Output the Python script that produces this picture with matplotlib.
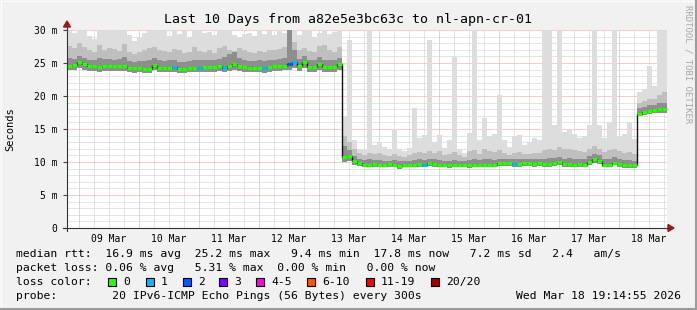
import matplotlib
matplotlib.use("Agg")
import matplotlib.pyplot as plt
import matplotlib.dates as mdates
from matplotlib.patches import Polygon, Rectangle
import numpy as np
import datetime as dt

# ---- data (2 hour bins, 10 days, values in ms) ----
start = dt.datetime(2026, 3, 8, 19, 15)
bin_hours = 2

median_ms = [
    24.6, 24.7, 25.1, 24.9, 24.6, 24.6, 24.4, 24.5, 24.6, 24.5,
    24.6, 24.5, 24.3, 24.2, 24.3, 24.1, 24.1, 24.7, 24.2, 24.2,
    24.3, 24.4, 24.1, 24.1, 24.2, 24.2, 24.3, 24.4, 24.4, 24.4,
    24.5, 24.3, 24.6, 24.8, 24.5, 24.4, 24.2, 24.2, 24.3, 24.2,
    24.4, 24.5, 24.5, 24.6, 24.8, 25.2, 24.6, 25.1, 24.4, 24.4,
    24.9, 24.4, 24.4, 24.4, 24.8, 10.7, 10.9, 10.1, 9.9, 9.6,
    9.6, 9.7, 9.6, 9.6, 9.7, 9.6, 9.4, 9.6, 9.6, 9.6,
    9.7, 9.6, 9.8, 9.7, 9.6, 9.6, 9.5, 9.6, 9.6, 9.6,
    9.5, 9.6, 9.6, 9.6, 9.6, 9.6, 9.8, 9.8, 9.8, 9.7,
    9.7, 9.8, 9.8, 9.7, 9.8, 9.7, 9.7, 9.8, 10.0, 9.7,
    9.7, 9.6, 9.7, 9.6, 10.0, 10.4, 10.2, 9.6, 9.6, 9.9,
    9.7, 9.5, 9.5, 9.5, 17.3, 17.6, 17.7, 17.9, 18.0, 18.0,
]

# number of lost pings per bin (index into loss_levels)
loss = [0] * 120
for i, v in [(21, 1), (26, 1), (31, 1), (39, 1), (44, 2), (45, 1), (71, 1), (89, 1)]:
    loss[i] = v

smoke_max = [
    30.2, 29.6, 31, 30.0, 29.1, 28.6, 31, 29.8, 30.4, 30.0,
    29.9, 31, 29.2, 28.4, 28.8, 29.6, 29.9, 30.6, 30.2, 30.4,
    29.1, 30.0, 29.4, 29.8, 29.0, 31, 30.0, 29.5, 29.7, 29.2,
    30.6, 31, 30.3, 29.3, 28.9, 29.4, 29.6, 29.1, 30.3, 29.4,
    29.8, 29.3, 30.1, 29.5, 31, 30.4, 29.3, 29.8, 30.2, 29.0,
    29.6, 31, 29.4, 29.7, 31, 17.0, 28.5, 13.3, 12.0, 11.8,
    31, 12.6, 13.0, 12.2, 11.9, 15.0, 12.0, 11.6, 12.1, 18.2,
    13.6, 14.1, 28.5, 13.0, 14.1, 12.1, 13.3, 25.9, 12.0, 11.3,
    14.4, 31, 13.3, 16.7, 14.0, 14.2, 20.2, 13.4, 12.2, 14.0,
    14.1, 12.6, 13.0, 13.6, 13.4, 31, 31, 15.6, 31, 14.5,
    15.0, 14.3, 13.7, 13.9, 15.6, 31, 15.6, 13.6, 16.0, 31,
    14.0, 14.2, 16.0, 13.5, 20.6, 21.0, 24.5, 21.5, 31, 31,
]

smoke_mid = [
    27.6, 27.2, 28.0, 27.5, 26.9, 26.6, 27.8, 27.0, 27.3, 27.1,
    26.8, 27.9, 26.7, 26.4, 26.6, 26.9, 27.2, 27.4, 27.0, 26.8,
    26.6, 27.1, 26.9, 26.5, 26.7, 27.5, 26.8, 26.6, 26.9, 26.5,
    27.2, 27.6, 27.0, 26.8, 27.3, 26.9, 26.6, 26.5, 26.8, 26.7,
    27.0, 26.9, 27.1, 27.4, 30.5, 28.2, 26.9, 27.2, 26.8, 26.6,
    27.6, 27.8, 26.9, 26.7, 27.4, 14.0, 13.0, 12.0, 11.3, 11.0,
    11.4, 11.2, 11.3, 11.0, 10.9, 11.2, 10.9, 10.8, 11.0, 11.4,
    11.5, 11.3, 11.6, 11.4, 11.6, 11.0, 11.2, 11.5, 11.0, 10.8,
    11.6, 11.8, 11.2, 11.9, 11.6, 11.5, 11.8, 11.4, 11.0, 11.4,
    11.5, 11.2, 11.2, 11.4, 11.3, 11.8, 12.0, 11.8, 12.2, 11.9,
    12.0, 11.8, 11.6, 11.5, 12.0, 12.4, 12.0, 11.5, 11.8, 12.0,
    11.6, 11.3, 11.5, 11.2, 19.0, 19.2, 19.6, 19.5, 20.2, 20.6,
]

smoke_dark = [
    25.7, 25.6, 26.0, 25.8, 25.5, 25.5, 25.8, 25.6, 25.6, 25.5,
    25.6, 25.9, 25.3, 25.2, 25.3, 25.3, 25.4, 25.8, 25.4, 25.3,
    25.4, 25.4, 25.2, 25.2, 25.3, 25.5, 25.4, 25.5, 25.5, 25.5,
    25.6, 25.9, 26.3, 26.6, 25.8, 25.5, 25.3, 25.3, 25.4, 25.3,
    25.5, 25.5, 25.6, 25.7, 30.5, 27.0, 25.6, 26.0, 25.5, 25.4,
    25.9, 25.5, 25.5, 25.4, 25.8, 12.4, 11.8, 10.9, 10.5, 10.3,
    10.4, 10.3, 10.3, 10.2, 10.2, 10.3, 10.1, 10.1, 10.2, 10.3,
    10.4, 10.3, 10.5, 10.4, 10.3, 10.2, 10.2, 10.3, 10.2, 10.1,
    10.3, 10.4, 10.3, 10.5, 10.4, 10.3, 10.5, 10.5, 10.4, 10.4,
    10.4, 10.5, 10.5, 10.4, 10.5, 10.5, 10.6, 10.6, 10.8, 10.5,
    10.6, 10.5, 10.5, 10.4, 10.9, 11.2, 11.0, 10.4, 10.5, 10.7,
    10.5, 10.3, 10.3, 10.2, 18.2, 18.4, 18.6, 18.7, 18.9, 19.0,
]

smoke_min = [
    23.9, 23.9, 24.2, 24.0, 23.8, 23.8, 23.7, 23.8, 23.8, 23.8,
    23.8, 23.8, 23.6, 23.5, 23.6, 23.5, 23.5, 23.9, 23.6, 23.6,
    23.6, 23.7, 23.5, 23.5, 23.6, 23.6, 23.6, 23.7, 23.7, 23.7,
    23.8, 23.6, 23.8, 24.0, 23.8, 23.7, 23.6, 23.6, 23.6, 23.5,
    23.7, 23.8, 23.8, 23.9, 23.9, 24.2, 23.8, 24.2, 23.7, 23.7,
    24.0, 23.7, 23.7, 23.7, 23.9, 10.0, 10.1, 9.6, 9.4, 9.2,
    9.2, 9.3, 9.2, 9.2, 9.3, 9.2, 9.0, 9.2, 9.2, 9.2,
    9.3, 9.2, 9.4, 9.3, 9.2, 9.2, 9.1, 9.2, 9.2, 9.2,
    9.1, 9.2, 9.2, 9.2, 9.2, 9.2, 9.4, 9.4, 9.4, 9.3,
    9.3, 9.4, 9.4, 9.3, 9.4, 9.3, 9.3, 9.4, 9.5, 9.3,
    9.3, 9.2, 9.3, 9.2, 9.5, 9.8, 9.7, 9.2, 9.2, 9.5,
    9.3, 9.1, 9.1, 9.1, 16.9, 17.1, 17.2, 17.4, 17.5, 17.5,
]

day_labels = ["09 Mar", "10 Mar", "11 Mar", "12 Mar", "13 Mar",
              "14 Mar", "15 Mar", "16 Mar", "17 Mar", "18 Mar"]
y_ticks = [0, 5, 10, 15, 20, 25, 30]
y_labels = ["0", "5 m", "10 m", "15 m", "20 m", "25 m", "30 m"]

loss_levels = ["0", "1", "2", "3", "4-5", "6-10", "11-19", "20/20"]
loss_colors = ["#26ff00", "#00b8ff", "#0059ff", "#7e00ff",
               "#ff00ea", "#ff5500", "#ff0000", "#a10000"]

title = "Last 10 Days from a82e5e3bc63c to nl-apn-cr-01"
line_rtt = "median rtt:  16.9 ms avg  25.2 ms max   9.4 ms min  17.8 ms now   7.2 ms sd   2.4   am/s"
line_loss = "packet loss: 0.06 % avg   5.31 % max  0.00 % min   0.00 % now"
line_probe = "probe:        20 IPv6-ICMP Echo Pings (56 Bytes) every 300s"
stamp = "Wed Mar 18 19:14:55 2026"

# ---- figure ----
W, H = 697, 310
mono = "DejaVu Sans Mono"
fig = plt.figure(figsize=(W / 100, H / 100), dpi=100, facecolor="#f1f1f1")
ax = fig.add_axes([67 / W, (H - 228) / H, 600 / W, 198 / H])
ax.set_facecolor("white")

t0 = mdates.date2num(start)
edges = t0 + np.arange(len(median_ms) + 1) * bin_hours / 24
ax.set_xlim(edges[0], edges[-1])
ax.set_ylim(0, 30)

# grid (dotted), minor every 6h / 1 ms, major every day / 5 ms
first_midnight = mdates.date2num(dt.datetime(2026, 3, 9))
hours6 = np.arange(first_midnight - 0.75, edges[-1], 0.25)
for x in hours6:
    if x <= edges[0]:
        continue
    major = abs((x - first_midnight) % 1) < 1e-6
    ax.axvline(x, color="#eb9c9c" if major else "#cccccc", lw=0.72,
               ls=(0, (1, 1)), zorder=0.5)
for y in range(1, 31):
    ax.axhline(y, color="#eb9c9c" if y % 5 == 0 else "#cccccc", lw=0.72,
               ls=(0, (1, 1)), zorder=0.5)

# smoke
ax.stairs(smoke_max, edges, baseline=smoke_min, fill=True, color="#dddddd", lw=0, zorder=2)
ax.stairs(smoke_mid, edges, baseline=smoke_min, fill=True, color="#bfbfbf", lw=0, zorder=3)
ax.stairs(smoke_dark, edges, baseline=smoke_min, fill=True, color="#8e8e8e", lw=0, zorder=4)

# median
ax.stairs(median_ms, edges, baseline=None, color="#111111", lw=1.0, zorder=5)
ax.hlines(median_ms, edges[:-1], edges[1:], colors=[loss_colors[l] for l in loss],
          lw=2.2, zorder=6)

# ticks
noons = [first_midnight + i + 0.5 for i in range(len(day_labels))]
ax.set_xticks(noons, day_labels, fontfamily=mono, fontsize=7)
ax.tick_params(axis="x", length=0, pad=4)
ax.set_yticks(y_ticks, y_labels, fontfamily=mono, fontsize=7)
ax.tick_params(axis="y", length=3, width=0.8, color="#444444", pad=4, direction="out")
for s in ax.spines.values():
    s.set_visible(False)

# ---- overlay for axes lines, legend and labels (pixel coords) ----
ov = fig.add_axes([0, 0, 1, 1], facecolor="none")
ov.set_xlim(0, W)
ov.set_ylim(H, 0)
ov.axis("off")

ov.plot([67, 67], [231, 26], color="#333333", lw=0.8)
ov.plot([63, 669], [228, 228], color="#333333", lw=0.8)
ov.add_patch(Polygon([(63.5, 27), (70.5, 27), (67, 21)], closed=True, color="#a01818"))
ov.add_patch(Polygon([(668, 224.5), (668, 231.5), (674, 228)], closed=True, color="#a01818"))

ov.text(W / 2, 20, title, fontfamily=mono, fontsize=9.5, ha="center", va="center")
ov.text(10, 129, "Seconds", fontfamily=mono, fontsize=7.5, rotation=90, ha="center", va="center")
ov.text(688, 5, "RRDTOOL / TOBI OETIKER", fontfamily=mono, fontsize=6.5, rotation=270,
        ha="center", va="top", color="#a8a8a8")

fs = 8.2
ov.text(16, 254, line_rtt, fontfamily=mono, fontsize=fs, va="center")
ov.text(16, 268, line_loss, fontfamily=mono, fontsize=fs, va="center")
ov.text(16, 282, "loss color:", fontfamily=mono, fontsize=fs, va="center")
box_x = [108, 146, 183, 219, 256, 307, 366, 431]
for bx, lab, col in zip(box_x, loss_levels, loss_colors):
    ov.add_patch(Rectangle((bx, 278), 7.5, 7.5, facecolor=col, edgecolor="black", lw=0.8))
    ov.text(bx + 15, 282, lab, fontfamily=mono, fontsize=fs, va="center")
ov.text(16, 296, line_probe, fontfamily=mono, fontsize=fs, va="center")
ov.text(681, 296, stamp, fontfamily=mono, fontsize=fs, va="center", ha="right")

# canvas border
ov.plot([0.5, W - 0.5], [0.5, 0.5], color="#fcfcfc", lw=1)
ov.plot([0.5, 0.5], [0.5, H - 0.5], color="#fcfcfc", lw=1)
ov.plot([0, W], [H - 1, H - 1], color="#9c9c9c", lw=1.5)
ov.plot([W - 1, W - 1], [0, H], color="#9c9c9c", lw=1.5)

fig.savefig("out.png", dpi=100, facecolor=fig.get_facecolor())
